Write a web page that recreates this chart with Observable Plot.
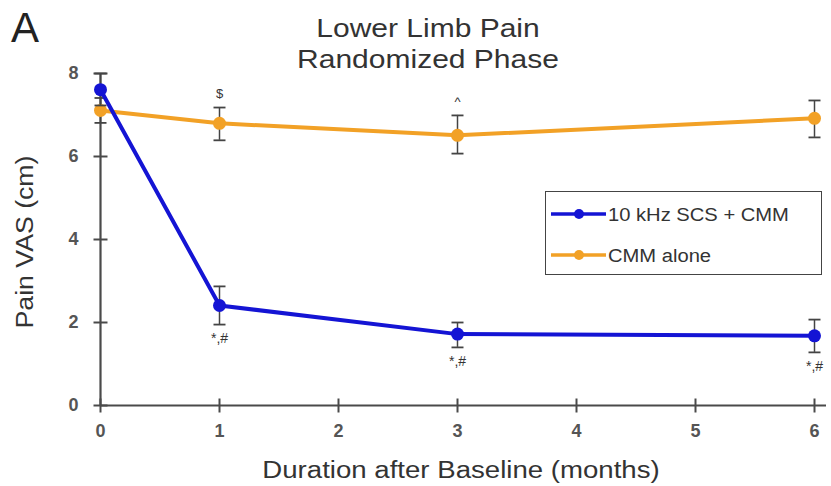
<!DOCTYPE html>
<html>
<head>
<meta charset="utf-8">
<script src="https://cdn.jsdelivr.net/npm/d3@7"></script>
<script src="https://cdn.jsdelivr.net/npm/@observablehq/plot@0.6"></script>
<style>
  body { margin: 0; background: #fff; }
  #wrap { position: relative; width: 831px; height: 486px; font-family: "Liberation Sans", Arial, Helvetica, sans-serif; color: #333; }
  #wrap svg { display: block; }
  .ov { position: absolute; white-space: nowrap; }
</style>
</head>
<body>
<div id="wrap"></div>
<script>
// ---- data ----
const months   = [0, 1, 3, 6];
const scsMean  = [7.61, 2.41, 1.72, 1.68];
const scsLow   = [7.23, 1.95, 1.40, 1.28];
const scsHigh  = [8.00, 2.87, 2.00, 2.07];
const cmmMean  = [7.11, 6.80, 6.51, 6.92];
const cmmLow   = [6.81, 6.39, 6.07, 6.46];
const cmmHigh  = [7.41, 7.18, 6.99, 7.35];
const scsMarks = ["", "*,#", "*,#", "*,#"];
const cmmMarks = ["", "$", "^", ""];
const seriesNames = ["10 kHz SCS + CMM", "CMM alone"];
const xTicks = [0, 1, 2, 3, 4, 5, 6];
const yTicks = [0, 2, 4, 6, 8];
const titleLines = ["Lower Limb Pain", "Randomized Phase"];
const xLabel = "Duration after Baseline (months)";
const yLabel = "Pain VAS (cm)";
const panelLabel = "A";

const BLUE = "#1414d4";
const ORANGE = "#f2a126";
const AXIS = "#4a4a4a";
const ERR = "#444";

const scs = months.map((m, i) => ({x: m, y: scsMean[i], lo: scsLow[i], hi: scsHigh[i], note: scsMarks[i]}));
const cmm = months.map((m, i) => ({x: m, y: cmmMean[i], lo: cmmLow[i], hi: cmmHigh[i], note: cmmMarks[i]}));

const hTick = {draw(ctx) { ctx.moveTo(-7, 0); ctx.lineTo(7, 0); }};
const vTick = {draw(ctx) { ctx.moveTo(0, -7); ctx.lineTo(0, 7); }};
const cap   = {draw(ctx) { ctx.moveTo(-6, 0); ctx.lineTo(6, 0); }};

function series(data, color) {
  return [
    Plot.ruleX(data, {x: "x", y1: "lo", y2: "hi", stroke: ERR, strokeWidth: 1.5}),
    Plot.dot(data, {x: "x", y: "lo", symbol: cap, stroke: ERR, strokeWidth: 1.8, fill: "none"}),
    Plot.dot(data, {x: "x", y: "hi", symbol: cap, stroke: ERR, strokeWidth: 1.8, fill: "none"}),
    Plot.line(data, {x: "x", y: "y", stroke: color, strokeWidth: 4}),
    Plot.dot(data, {x: "x", y: "y", r: 6.5, fill: color, stroke: "none"})
  ];
}

const chart = Plot.plot({
  width: 831,
  height: 486,
  marginLeft: 100,
  marginRight: 17,
  marginTop: 73,
  marginBottom: 81,
  style: {fontFamily: '"Liberation Sans", Arial, sans-serif', background: "transparent"},
  x: {domain: [0, 6]},
  y: {domain: [0, 8]},
  marks: [
    Plot.ruleY([0], {stroke: AXIS, strokeWidth: 2.2, insetRight: -12}),
    Plot.ruleX([0], {stroke: AXIS, strokeWidth: 2.2, insetBottom: -1}),
    Plot.dot(yTicks, {x: 0, y: d => d, symbol: hTick, stroke: AXIS, strokeWidth: 2, fill: "none"}),
    Plot.dot(xTicks, {x: d => d, y: 0, symbol: vTick, stroke: AXIS, strokeWidth: 2, fill: "none"}),
    Plot.axisY({ticks: yTicks, tickSize: 0, tickPadding: 22, fontSize: 18, fontWeight: "bold", color: "#555", label: null, tickFormat: d3.format("d")}),
    Plot.axisX({ticks: xTicks, tickSize: 0, tickPadding: 19, fontSize: 18, fontWeight: "bold", color: "#555", label: null, tickFormat: d3.format("d")}),
    ...series(cmm, ORANGE),
    ...series(scs, BLUE),
    Plot.text(cmm, {x: "x", y: "hi", text: "note", dy: -14, fontSize: 13, fill: "#333"}),
    Plot.text(scs, {x: "x", y: "lo", text: "note", dy: 14, fontSize: 14, fill: "#333"})
  ]
});

const wrap = document.getElementById("wrap");
wrap.appendChild(chart);

function ov(text, css) {
  const d = document.createElement("div");
  d.className = "ov";
  d.textContent = text;
  Object.assign(d.style, css);
  wrap.appendChild(d);
  return d;
}

// panel label
ov(panelLabel, {left: "11px", top: "7px", fontSize: "42px", lineHeight: "42px", color: "#222"});

// title
const t = ov("", {left: "428px", top: "13px", fontSize: "25px", lineHeight: "31px", textAlign: "center",
  transform: "translateX(-50%) scaleX(1.2)", color: "#333"});
t.innerHTML = titleLines.join("<br>");

// axis labels
ov(xLabel, {left: "461px", top: "459px", fontSize: "23px", lineHeight: "23px",
  transform: "translateX(-50%) scaleX(1.2)", color: "#333"});
ov(yLabel, {left: "25px", top: "242px", fontSize: "23px", lineHeight: "23px",
  transform: "translate(-50%, -50%) rotate(-90deg) scaleX(1.16)", color: "#333"});

// legend
const box = document.createElement("div");
box.className = "ov";
Object.assign(box.style, {left: "545px", top: "191px", width: "277px", height: "84px",
  border: "1.5px solid #444", boxSizing: "border-box", background: "#fff"});
wrap.appendChild(box);

const legendColors = [BLUE, ORANGE];
const rowCenters = [214, 255];
seriesNames.forEach((name, i) => {
  const c = rowCenters[i];
  const sw = document.createElementNS("http://www.w3.org/2000/svg", "svg");
  sw.setAttribute("width", "56");
  sw.setAttribute("height", "14");
  sw.style.position = "absolute";
  sw.style.left = "551px";
  sw.style.top = (c - 7) + "px";
  sw.innerHTML = `<line x1="0" y1="7" x2="55" y2="7" stroke="${legendColors[i]}" stroke-width="3.5"/>` +
                 `<circle cx="28" cy="7" r="5" fill="${legendColors[i]}"/>`;
  wrap.appendChild(sw);
  ov(name, {left: "608px", top: (c - 8.5) + "px", fontSize: "18px", lineHeight: "18px",
    transform: "scaleX(1.12)", transformOrigin: "left center", color: "#333"});
});
</script>
</body>
</html>
